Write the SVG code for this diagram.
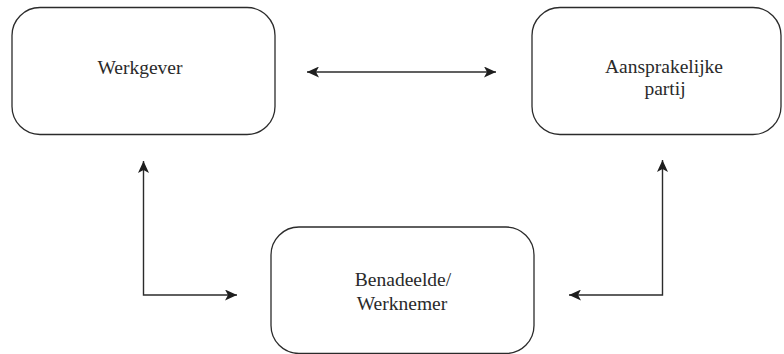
<svg xmlns="http://www.w3.org/2000/svg" width="784" height="354" viewBox="0 0 784 354">
  <style>
    .box { fill: #ffffff; stroke: #2b2b2b; stroke-width: 1.3; }
    .lbl { font-family: "Liberation Serif", "Times New Roman", serif; font-size: 19.5px; fill: #2a2a2a; text-anchor: middle; }
    .conn { fill: none; stroke: #2b2b2b; stroke-width: 1.4; }
  </style>
  <defs>
    <marker id="arr" markerUnits="userSpaceOnUse" markerWidth="13" markerHeight="11" refX="12" refY="5.5" orient="auto-start-reverse" viewBox="0 0 13 11">
      <path d="M0,0 L12,5.5 L0,11 L3,5.5 Z" fill="#1e1e1e"/>
    </marker>
  </defs>
  <rect width="784" height="354" fill="#ffffff"/>
  <g id="werkgever">
    <rect class="box" x="12" y="7.5" width="263" height="127" rx="28" ry="28"/>
    <text class="lbl" x="140" y="74">Werkgever</text>
  </g>
  <g id="aansprakelijke-partij">
    <rect class="box" x="532" y="7.5" width="249" height="127" rx="28" ry="28"/>
    <text class="lbl" x="664" y="73">Aansprakelijke</text>
    <text class="lbl" x="665" y="95">partij</text>
  </g>
  <g id="benadeelde-werknemer">
    <rect class="box" x="271" y="227" width="263" height="126.5" rx="28" ry="28"/>
    <text class="lbl" x="403" y="286">Benadeelde/</text>
    <text class="lbl" x="402" y="310">Werknemer</text>
  </g>
  <g id="connectors">
    <line class="conn" x1="307" y1="72" x2="496" y2="72" marker-start="url(#arr)" marker-end="url(#arr)"/>
    <polyline class="conn" points="143.5,161 143.5,295 237,295" marker-start="url(#arr)" marker-end="url(#arr)"/>
    <polyline class="conn" points="662.5,160 662.5,295 569,295" marker-start="url(#arr)" marker-end="url(#arr)"/>
  </g>
</svg>
